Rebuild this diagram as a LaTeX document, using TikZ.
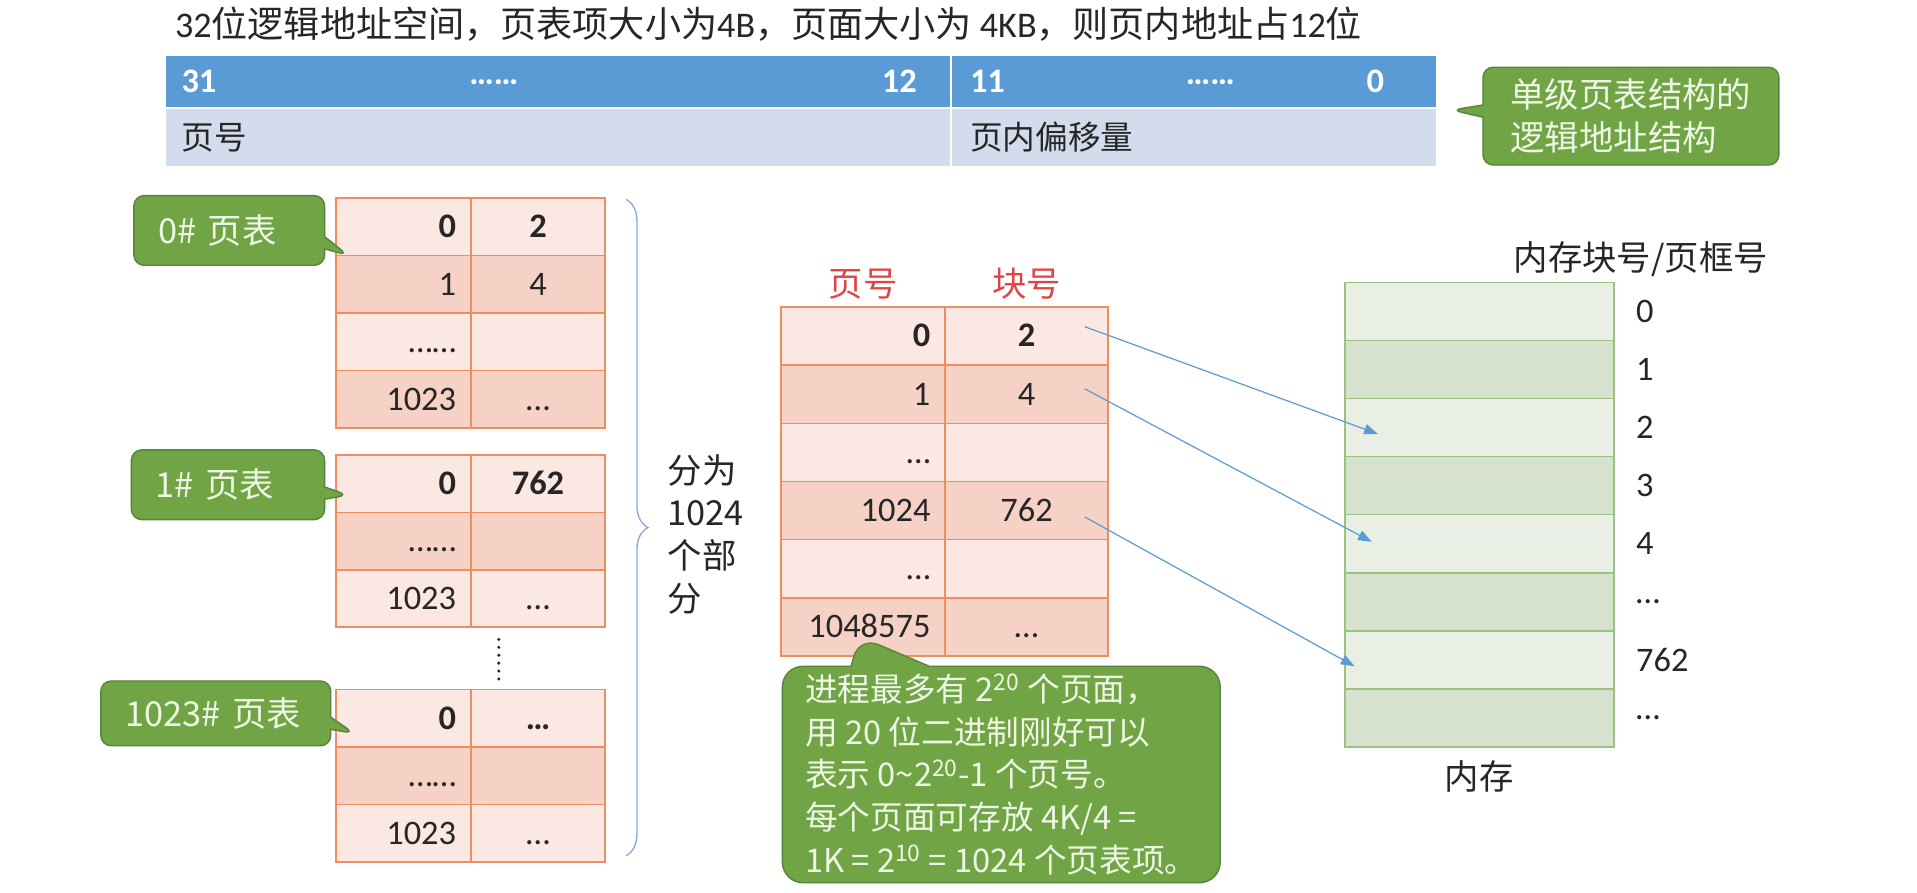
\documentclass[tikz,border=0pt]{standalone}
\usepackage{fontspec}
\setmainfont{Carlito}
\newfontfamily\zh{Noto Sans CJK SC}
\usetikzlibrary{positioning,arrows.meta,shapes.callouts,decorations.pathreplacing}
\definecolor{barblue}{HTML}{5B9BD5}
\definecolor{barlight}{HTML}{D2DCEC}
\definecolor{tline}{HTML}{EE8E5E}
\definecolor{tlight}{HTML}{FBE8E3}
\definecolor{tdark}{HTML}{F6D1C6}
\definecolor{mline}{HTML}{9CC283}
\definecolor{mlight}{HTML}{E9EFE5}
\definecolor{mdark}{HTML}{D6E2CE}
\definecolor{tipgreen}{HTML}{70A444}
\definecolor{tipline}{HTML}{56843A}
\definecolor{tiptext}{HTML}{EEF6E6}
\definecolor{linkblue}{HTML}{5B9BD5}
\definecolor{bracecol}{HTML}{8FAADC}
\definecolor{hdrred}{HTML}{E04545}
\definecolor{ink}{HTML}{262626}
\tikzset{
  cell/.style={draw=tline, fill=#1, line width=0.9pt, outer sep=0pt, inner ysep=0pt, inner xsep=0.3cm,
               text height=12.6pt, text depth=0pt, font=\fontsize{20}{24}\selectfont, text=ink},
  lcell/.style={cell=#1, minimum height=1.175cm, text width=2.15cm, align=right},
  rcell/.style={cell=#1, minimum height=1.175cm, text width=2.15cm, align=center},
  pcell/.style={cell=#1, minimum height=1.19cm, text width=2.75cm, align=right},
  fcell/.style={cell=#1, minimum height=1.19cm, text width=2.73cm, align=center},
  membox/.style={draw=mline, fill=#1, line width=0.9pt, outer sep=0pt, minimum width=5.5cm, minimum height=1.1875cm},
  memlbl/.style={inner sep=0pt, text=ink, font=\fontsize{20}{24}\selectfont},
  barhi/.style={fill=barblue, draw=white, line width=1.2pt, outer sep=0pt, minimum height=1.075cm},
  barlo/.style={fill=barlight, draw=white, line width=1.2pt, outer sep=0pt, minimum height=1.225cm},
  bartxt/.style={inner sep=0pt, text=white, font=\fontsize{20}{24}\selectfont\bfseries},
  lbl/.style={inner sep=2pt, text=ink, font=\fontsize{20}{24}\selectfont\zh},
  hdr/.style={lbl, text=hdrred},
  tip/.style={rectangle callout, draw=tipline, fill=tipgreen, line width=0.8pt, rounded corners=6pt,
              text=tiptext, align=left, inner xsep=0.5cm, font=\fontsize{20}{25}\selectfont\zh},
  link/.style={-{Triangle[length=8pt,width=6pt]}, draw=linkblue, line width=0.7pt},
  brc/.style={decorate, decoration={brace, amplitude=0.45cm}, draw=bracecol, line width=0.8pt},
}
\begin{document}
\begin{tikzpicture}[x=0.025cm, y=-0.025cm]
  \useasboundingbox[fill=white] (0,0) rectangle (1568,730);

  % logical address layout
  \node[anchor=west, inner sep=0pt, text=ink, font=\fontsize{21}{25}\selectfont] (title) at (143,20)
    {32{\zh 位逻辑地址空间，页表项大小为}4B{\zh ，页面大小为} 4KB{\zh ，则页内地址占}12{\zh 位}};
  \node[barhi, minimum width=16.075cm, anchor=north west] (hiL) at (135,45) {};
  \node[barhi, minimum width=9.925cm, right=0pt of hiL] (hiR) {};
  \node[barlo, minimum width=16.075cm, below=0pt of hiL] (loL) {};
  \node[barlo, minimum width=9.925cm, right=0pt of loL] (loR) {};
  \node[bartxt, anchor=west] (b31) at ([xshift=0.33cm]hiL.west) {31};
  \node[bartxt] (bdotL) at (404,67) {……};
  \node[bartxt, anchor=east] (b12) at ([xshift=-0.7cm]hiL.east) {12};
  \node[bartxt, anchor=west] (b11) at ([xshift=0.375cm]hiR.west) {11};
  \node[bartxt] (bdotR) at (990,67) {……};
  \node[bartxt, anchor=east] (b0) at ([xshift=-1.075cm]hiR.east) {0};
  \node[lbl, anchor=west, inner sep=0pt, font=\fontsize{19}{23}\selectfont\zh] (pgNo) at ([xshift=0.33cm]loL.west) {页号};
  \node[lbl, anchor=west, inner sep=0pt, font=\fontsize{19}{23}\selectfont\zh] (pgOff) at ([xshift=0.375cm]loR.west) {页内偏移量};
  \node[tip, minimum width=6.05cm, minimum height=2cm,
        callout absolute pointer={([xshift=0.3cm,yshift=-0.05cm]hiR.south east)}] (cStruct) at (1334,95)
    {单级页表结构的\\逻辑地址结构};

  % second-level page tables
  \node[lcell=tlight, anchor=north west] (t0a0) at (275,162) {\textbf{0}};
  \node[rcell=tlight, right=0pt of t0a0] (t0b0) {\textbf{2}};
  \node[lcell=tdark, below=0pt of t0a0] (t0a1) {1};
  \node[rcell=tdark, right=0pt of t0a1] (t0b1) {4};
  \node[lcell=tlight, below=0pt of t0a1] (t0a2) {……};
  \node[rcell=tlight, right=0pt of t0a2] (t0b2) {};
  \node[lcell=tdark, below=0pt of t0a2] (t0a3) {1023};
  \node[rcell=tdark, right=0pt of t0a3] (t0b3) {…};

  \node[lcell=tlight, anchor=north west] (t1a0) at (275,372) {\textbf{0}};
  \node[rcell=tlight, right=0pt of t1a0] (t1b0) {\textbf{762}};
  \node[lcell=tdark, below=0pt of t1a0] (t1a1) {……};
  \node[rcell=tdark, right=0pt of t1a1] (t1b1) {};
  \node[lcell=tlight, below=0pt of t1a1] (t1a2) {1023};
  \node[rcell=tlight, right=0pt of t1a2] (t1b2) {…};

  \draw[ink, line width=2pt, line cap=round, dash pattern=on 0pt off 4.6pt] (408,523) -- (408,556);

  \node[lcell=tlight, anchor=north west] (t2a0) at (275,564) {\textbf{0}};
  \node[rcell=tlight, right=0pt of t2a0] (t2b0) {\textbf{…}};
  \node[lcell=tdark, below=0pt of t2a0] (t2a1) {……};
  \node[rcell=tdark, right=0pt of t2a1] (t2b1) {};
  \node[lcell=tlight, below=0pt of t2a1] (t2a2) {1023};
  \node[rcell=tlight, right=0pt of t2a2] (t2b2) {…};

  \node[tip, text width=2.9cm, minimum height=1.425cm,
        callout absolute pointer={([xshift=0.25cm]t0a0.south west)}] (c0) at (187.5,188.5) {0\# 页表};
  \node[tip, text width=2.95cm, minimum height=1.425cm,
        callout absolute pointer={([xshift=0.25cm,yshift=0.35cm]t1a0.south west)}] (c1) at (186.5,396.5) {1\# 页表};
  \node[tip, text width=3.7cm, minimum height=1.325cm,
        callout absolute pointer={([xshift=0.375cm,yshift=0.275cm]t2a0.south west)}] (c2) at (176.5,583.5) {1023\# 页表};

  \coordinate (braceT) at (512,163);
  \coordinate (braceB) at (512,700);
  \draw[brc] (braceT) -- (braceB);
  \node[lbl, anchor=west, align=left, font=\fontsize{20}{24.8}\selectfont\zh] (split) at (543,437) {分为\\1024\\个部\\分};

  % single-level page table
  \node[pcell=tlight, anchor=north west] (p0a) at (639,251) {\textbf{0}};
  \node[fcell=tlight, right=0pt of p0a] (p0b) {\textbf{2}};
  \node[pcell=tdark, below=0pt of p0a] (p1a) {1};
  \node[fcell=tdark, right=0pt of p1a] (p1b) {4};
  \node[pcell=tlight, below=0pt of p1a] (p2a) {…};
  \node[fcell=tlight, right=0pt of p2a] (p2b) {};
  \node[pcell=tdark, below=0pt of p2a] (p3a) {1024};
  \node[fcell=tdark, right=0pt of p3a] (p3b) {762};
  \node[pcell=tlight, below=0pt of p3a] (p4a) {…};
  \node[fcell=tlight, right=0pt of p4a] (p4b) {};
  \node[pcell=tdark, below=0pt of p4a] (p5a) {1048575};
  \node[fcell=tdark, right=0pt of p5a] (p5b) {…};
  \node[hdr, above=0.08cm of p0a] (hPage) {页号};
  \node[hdr, above=0.08cm of p0b] (hFrame) {块号};

  \node[tip, minimum width=8.95cm, inner xsep=0.45cm, minimum height=4.425cm, inner ysep=2pt, rounded corners=12pt,
        font=\fontsize{19}{24.8}\selectfont\zh, callout pointer width=1.6cm,
        callout absolute pointer={([xshift=1.6cm,yshift=0.4cm]p5a.south west)}] (cNote) at (819,633.5)
    {进程最多有 2\textsuperscript{20} 个页面，\\
     用 20 位二进制刚好可以\\
     表示 0\textasciitilde 2\textsuperscript{20}-1 个页号。\\
     每个页面可存放 4K/4 =\\
     1K = 2\textsuperscript{10} = 1024 个页表项。};

  % memory frames
  \foreach \i/\lbl/\f in {0/0/mlight,1/1/mdark,2/2/mlight,3/3/mdark,4/4/mlight,5/…/mdark,6/762/mlight,7/…/mdark}{
    \node[membox=\f, anchor=north west] (m\i) at (1100,{231+47.5*\i}) {};
    \node[memlbl, right=0.45cm of m\i] (ml\i) {\lbl};
  }
  \node[lbl] (memHdr) at (1342,212) {内存块号/页框号};
  \node[lbl, below=0.2cm of m7] (memCap) {内存};

  \draw[link] ([xshift=-0.475cm,yshift=0.19cm]p0b.east) -- ([xshift=0.675cm,yshift=-0.13cm]m2.west);
  \draw[link] ([xshift=-0.475cm,yshift=0.11cm]p1b.east) -- ([xshift=0.55cm,yshift=0.04cm]m4.west);
  \draw[link] ([xshift=-0.475cm,yshift=-0.13cm]p3b.east) -- ([xshift=0.2cm,yshift=-0.13cm]m6.west);
\end{tikzpicture}
\end{document}
